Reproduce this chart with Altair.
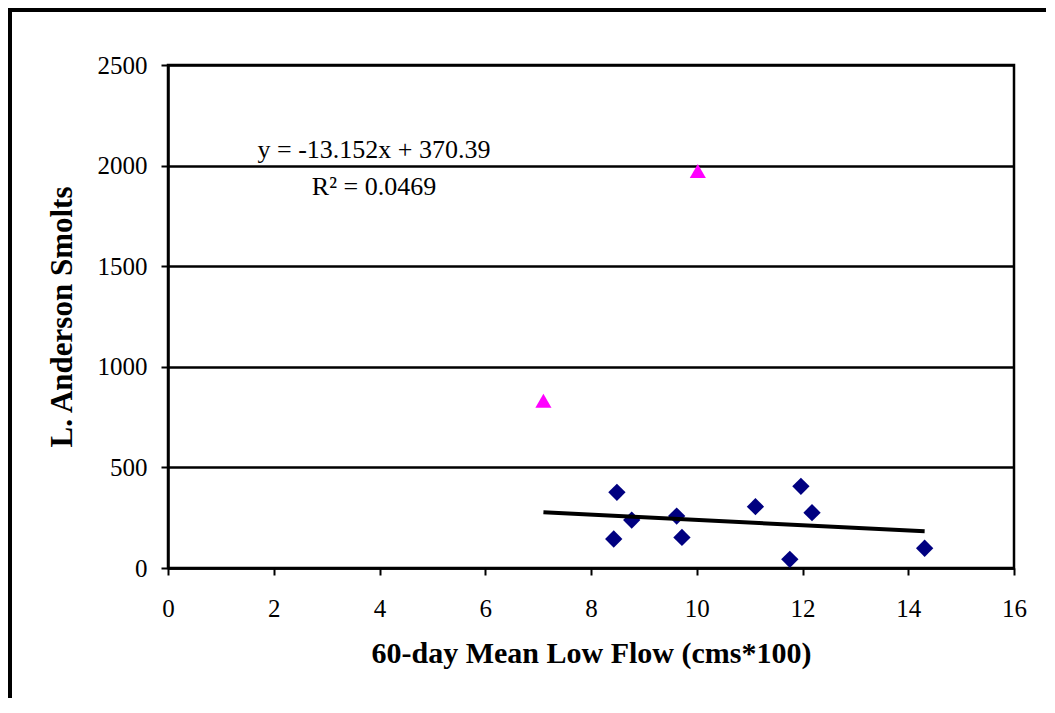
import altair as alt
import pandas as pd

# Data
diamond_x = [8.49, 8.77, 8.43, 9.62, 9.72, 11.11, 11.97, 12.18, 11.76, 14.31]
diamond_y = [376, 238, 144, 258, 152, 305, 406, 275, 43, 98]
triangle_x = [7.10, 10.02]
triangle_y = [831, 1973]
trend_x = [7.10, 14.31]
slope, intercept = -13.152, 370.39
eq_text = ["y = -13.152x + 370.39", "R\u00b2 = 0.0469"]

FONT = "Liberation Serif"
W, H = 846, 503

d_df = pd.DataFrame({"x": diamond_x, "y": diamond_y})
t_df = pd.DataFrame({"x": triangle_x, "y": triangle_y})
tr_df = pd.DataFrame({"x": trend_x, "y": [slope * v + intercept for v in trend_x]})

xs = alt.Scale(domain=[0, 16], nice=False, zero=False)
ys = alt.Scale(domain=[0, 2500], nice=False)

xax = alt.Axis(values=list(range(0, 17, 2)), title="60-day Mean Low Flow (cms*100)",
               format="d", labelFlush=False,
               grid=False, tickSize=7, tickWidth=2, tickColor="black",
               domainColor="black", domainWidth=2.5,
               labelFont=FONT, labelFontSize=25, labelColor="black", labelPadding=21,
               titleFont=FONT, titleFontSize=30, titleFontWeight="bold", titleColor="black",
               titlePadding=17)
yax = alt.Axis(values=list(range(0, 2501, 500)), title="L. Anderson Smolts",
               format="d", labelFlush=False,
               grid=True, gridColor="black", gridWidth=2.5, gridOpacity=1,
               tickSize=7, tickWidth=2, tickColor="black",
               domainColor="black", domainWidth=2.5,
               labelFont=FONT, labelFontSize=25, labelColor="black", labelPadding=14,
               titleFont=FONT, titleFontSize=31, titleFontWeight="bold", titleColor="black",
               titlePadding=19)

diamonds = alt.Chart(d_df).mark_point(shape="diamond", filled=True, size=300,
                                      color="#000080", opacity=1).encode(
    x=alt.X("x:Q", scale=xs, axis=xax),
    y=alt.Y("y:Q", scale=ys, axis=yax),
)
triangles = alt.Chart(t_df).mark_point(shape="triangle-up", filled=True, size=260,
                                       color="#FF00FF", opacity=1).encode(
    x=alt.X("x:Q", scale=xs), y=alt.Y("y:Q", scale=ys))
trend = alt.Chart(tr_df).mark_line(color="black", strokeWidth=4).encode(
    x=alt.X("x:Q", scale=xs), y=alt.Y("y:Q", scale=ys))

txt1 = alt.Chart(pd.DataFrame({"t": [eq_text[0]]})).mark_text(
    font=FONT, fontSize=26, color="black", align="center", baseline="middle").encode(
    text="t:N", x=alt.value(206), y=alt.value(85))
txt2 = alt.Chart(pd.DataFrame({"t": [eq_text[1]]})).mark_text(
    font=FONT, fontSize=26, color="black", align="center", baseline="middle").encode(
    text="t:N", x=alt.value(206), y=alt.value(122))

frame_top = alt.Chart(pd.DataFrame({"a": [0]})).mark_rule(color="black", strokeWidth=4, clip=False).encode(
    x=alt.value(-162), x2=alt.value(W + 40), y=alt.value(-55))
frame_left = alt.Chart(pd.DataFrame({"a": [0]})).mark_rule(color="black", strokeWidth=4, clip=False).encode(
    x=alt.value(-158), y=alt.value(-57), y2=alt.value(H + 140))

chart = alt.layer(diamonds, triangles, trend, txt1, txt2, frame_top, frame_left).properties(
    width=W, height=H,
    autosize=alt.AutoSizeParams(type="none"),
    padding={"left": 160, "top": 57, "right": 32, "bottom": 130},
    background="white",
).configure_view(stroke="black", strokeWidth=2.5)

chart.save("out.html", embed_options={"renderer": "svg", "actions": False})
